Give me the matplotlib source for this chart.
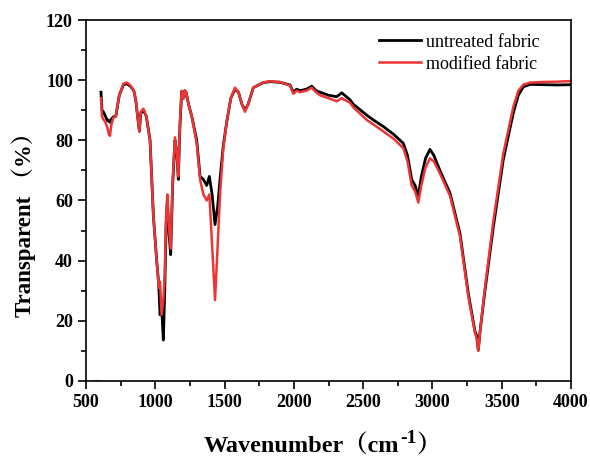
import numpy as np
import matplotlib
matplotlib.use("Agg")
from matplotlib import pyplot as plt
from matplotlib.ticker import MultipleLocator

# wavenumber grid (cm-1) shared by both spectra
wn = [600, 608, 615, 625, 640, 655, 665, 673, 682, 697, 715, 740, 770, 794, 820, 845,
      860, 872, 885, 895, 914, 935, 962, 986, 1010, 1025, 1034, 1045, 1058, 1068, 1078,
      1087, 1097, 1111, 1125, 1142, 1155, 1166, 1178, 1190, 1205, 1212, 1222, 1240, 1263,
      1299, 1323, 1347, 1371, 1390, 1410, 1431, 1450, 1467, 1490, 1515, 1545, 1575, 1600,
      1625, 1647, 1670, 1707, 1779, 1828, 1900, 1972, 1996, 2020, 2044, 2090, 2129, 2160,
      2189, 2250, 2309, 2345, 2405, 2429, 2525, 2573, 2645, 2720, 2790, 2820, 2850, 2875,
      2898, 2920, 2950, 2982, 3010, 3054, 3127, 3199, 3259, 3307, 3320, 3331, 3345, 3379,
      3439, 3511, 3583, 3620, 3656, 3704, 3800, 3900, 4000]

untreated = [None, 96, 90, 89.5, 88, 86.5, 86.5, 86, 87, 87.8, 88, 95, 98.5, 98.8, 98, 96.5,
             93, 88, 83, 89, 90, 88, 80, 55, 40, 32, 22, 25, 13.6, 30, 52,
             60, 50, 42, 65, 80, 76, 67, 85, 96, 94, 96.5, 96, 92, 88,
             80, 68, 67, 65, 68, 62, 52, 58, 67, 78, 86, 94, 97, 96,
             92, 90, 92, 97.5, 99.2, 99.5, 99.3, 98.4, 96, 97, 96.5, 97, 98, 96.5,
             96, 95, 94.5, 95.8, 93.5, 92, 88.4, 86.8, 84.6, 82, 79, 75, 67, 65,
             61.5, 68, 74, 77, 75, 70, 62.4, 49, 29, 16.5, 15, 10.3, 17, 30,
             51, 73.5, 89, 95, 97.8, 98.6, 98.5, 98.4, 98.5]

modified = [None, 94, 88, 87, 86, 84, 82, 81.5, 85, 87.5, 88, 95, 98.8, 99.2, 98.3, 96.5,
            93, 88, 83, 89.5, 90.5, 88, 80, 55, 40, 31, 33, 22, 27, 35, 55,
            62, 52, 44, 66, 81, 76, 68, 86, 96.5, 94, 96.5, 96, 92, 88,
            79, 67, 62, 60, 62, 45, 26.9, 45, 62, 77, 86, 94, 97.5, 96,
            92, 89.5, 92, 97.5, 99.3, 99.6, 99.4, 98.2, 95.5, 96.5, 96, 96.5, 97.5, 96,
            95, 94, 93, 94, 92.5, 91, 86.8, 85.3, 83, 80.5, 77.4, 73, 65, 63,
            59.3, 65, 71, 74, 73, 69, 61.5, 48, 28, 16, 14, 10, 17, 31,
            53, 75.5, 91, 96.5, 98.5, 99.2, 99.4, 99.5, 99.7]

# stray zero-valued piece of the modified spectrum near 550-600
stray_wn = [550, 600]
stray_val = [0, 0]

x_ticks = [500, 1000, 1500, 2000, 2500, 3000, 3500, 4000]
y_ticks = [0, 20, 40, 60, 80, 100, 120]

serif = ["Liberation Serif", "Noto Serif CJK SC", "Noto Sans CJK SC", "DejaVu Serif"]
plt.rcParams["font.family"] = serif

u = np.array([np.nan if v is None else v for v in untreated], dtype=float)
m = np.array([np.nan if v is None else v for v in modified], dtype=float)

W, H = 590, 459
fig = plt.figure(figsize=(W / 100, H / 100), dpi=100)
ax = fig.add_axes([0.1458, 0.170, 0.8220, 0.7864])

ax.plot(wn, u, color="black", lw=2.0, label="untreated fabric")
ax.plot(wn, m, color="#ee3535", lw=1.8, label="modified fabric")
ax.plot(stray_wn, stray_val, color="#f07070", lw=1.5)

ax.set_xlim(500, 4000)
ax.set_ylim(0, 120)
ax.set_xticks(x_ticks)
ax.set_yticks(y_ticks)
ax.xaxis.set_minor_locator(MultipleLocator(250))
ax.yaxis.set_minor_locator(MultipleLocator(10))
ax.tick_params(which="major", direction="out", length=6, width=1.2, top=False, right=False)
ax.tick_params(which="minor", direction="out", length=3.5, width=1.2, top=False, right=False)
for lab in ax.get_xticklabels() + ax.get_yticklabels():
    lab.set_fontweight("bold")
    lab.set_fontsize(13)
for s in ax.spines.values():
    s.set_linewidth(1.2)

ax.set_ylabel("Transparent \uff08%\uff09", fontsize=16.5, fontweight="bold")
ax.yaxis.set_label_coords(-0.103, 0.449)

leg = ax.legend(loc="upper right", bbox_to_anchor=(0.9505, 0.982), frameon=False,
                fontsize=13, handlelength=2.3, labelspacing=0.28, handletextpad=0.3,
                borderaxespad=0)

# x label built from pieces so the full-width brackets and superscript both render
fig.canvas.draw()
r = fig.canvas.get_renderer()
base = 1 - 453 / H
t1 = fig.text(0, base, "Wavenumber\uff08cm", fontsize=17.5, fontweight="bold", va="baseline")
t2 = fig.text(0, base + 10 / H, "-1", fontsize=14, fontweight="bold", va="baseline")
t3 = fig.text(0, base, "\uff09", fontsize=17.5, fontweight="bold", va="baseline")
w1 = t1.get_window_extent(r).width
w2 = t2.get_window_extent(r).width
w3 = t3.get_window_extent(r).width
x0 = 322 - (w1 + w2 + w3) / 2
t1.set_x(x0 / W)
t2.set_x((x0 + w1 + 1) / W)
t3.set_x((x0 + w1 + w2 + 1) / W)

fig.savefig("out.png", dpi=100)
